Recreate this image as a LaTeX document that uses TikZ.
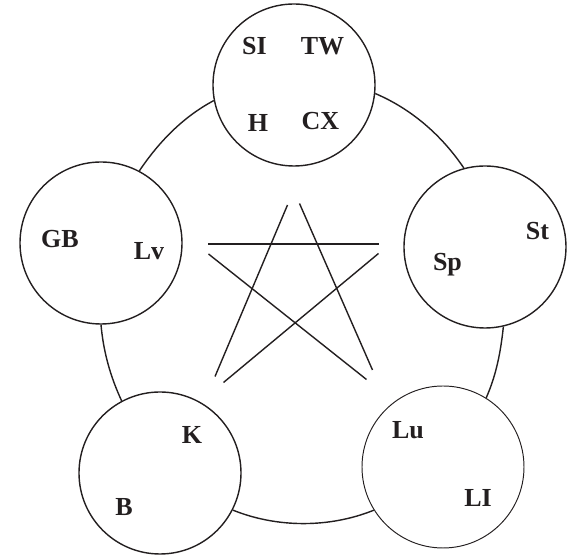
\documentclass[tikz,border=0pt]{standalone}
\usepackage{fontspec}
\setmainfont{Liberation Serif}
\usepackage{tikz}
\definecolor{ink}{RGB}{35,31,32}

\begin{document}
\begin{tikzpicture}[
  font=\fontsize{14.8}{16}\selectfont\bfseries,
  organ/.style={circle, draw=ink, line width=0.8pt, minimum size=3.24cm, inner sep=0pt},
  lbl/.style={anchor=base, text=ink, inner sep=0pt},
  link/.style={draw=ink, line width=0.8pt, looseness=0.87},
]
\useasboundingbox (0,0) rectangle (11.36,11.14);

% Five circles
\node[organ] (fire)  at (5.88,9.44) {};
\node[organ] (earth) at (9.70,6.20) {};
\node[organ, line width=0.55pt] (metal) at (8.86,1.80) {};
\node[organ] (water) at (3.20,1.68) {};
\node[organ] (wood)  at (2.02,6.28) {};

% Labels
\node[lbl] (si) at (5.09,10.04){SI};
\node[lbl] (tw) at (6.45,10.04){TW};
\node[lbl] (h)  at (5.16,8.51){H};
\node[lbl] (cx) at (6.41,8.55){CX};
\node[lbl] (st) at (10.75,6.34){St};
\node[lbl] (sp) at (8.95,5.72){Sp};
\node[lbl] (lu) at (8.16,2.36){Lu};
\node[lbl] (li) at (9.56,1.01){LI};
\node[lbl] (k)  at (3.84,2.26){K};
\node[lbl] (b)  at (2.48,0.83){B};
\node[lbl] (gb) at (1.20,6.18){GB};
\node[lbl] (lv) at (2.98,5.94){Lv};

% Outer ring
\draw[link] (wood.62)   to[out=56,  in=208] (fire.191);
\draw[link] (fire.-6)   to[out=-23, in=124] (earth.105);
\draw[link] (earth.-77) to[out=-96, in=66]  (metal.58);
\draw[link] (metal.212) to[out=202, in=338] (water.-27);
\draw[link] (water.118) to[out=115, in=-85] (wood.-90);

% Star
\coordinate (a1) at (5.75,7.04); \coordinate (a2) at (4.30,3.61);
\coordinate (b1) at (5.99,7.07); \coordinate (b2) at (7.45,3.74);
\coordinate (c1) at (4.17,6.26); \coordinate (c2) at (7.57,6.26);
\coordinate (d1) at (4.17,6.06); \coordinate (d2) at (7.33,3.55);
\coordinate (e1) at (7.57,6.07); \coordinate (e2) at (4.47,3.49);
\draw[ink, line width=0.8pt] (a1) -- (a2);
\draw[ink, line width=0.8pt] (b1) -- (b2);
\draw[ink, line width=0.8pt] (c1) -- (c2);
\draw[ink, line width=0.8pt] (d1) -- (d2);
\draw[ink, line width=0.8pt] (e1) -- (e2);

\end{tikzpicture}
\end{document}
